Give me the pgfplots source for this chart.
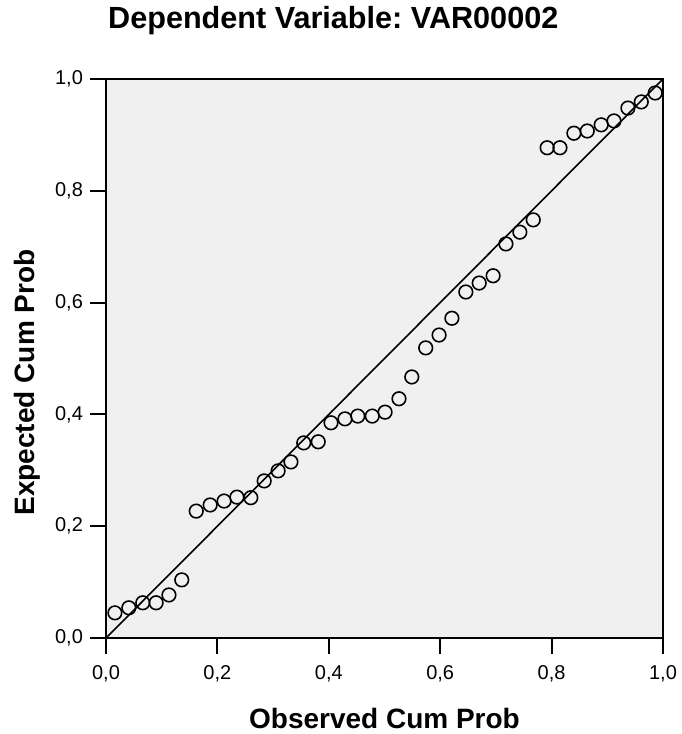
\documentclass[border=0pt]{standalone}
\usepackage{pgfplots}
\pgfplotsset{compat=1.18}
\usepackage{fontspec}
\setmainfont{Liberation Sans}
\frenchspacing
\definecolor{plotbg}{HTML}{F0F0F0}

\begin{document}
\begin{tikzpicture}
\begin{axis}[
  scale only axis,
  width=278.5pt,
  height=279.5pt,
  xmin=0,xmax=1,
  ymin=0,ymax=1,
  axis on top,
  axis background/.style={fill=plotbg},
  axis line style={line width=0.9pt},
  xtick={0,0.2,0.4,0.6,0.8,1},
  ytick={0,0.2,0.4,0.6,0.8,1},
  tick align=outside,
  xtick pos=lower,
  ytick pos=lower,
  major tick length=8pt,
  every tick/.append style={black,line width=1pt},
  xtick style={black,line width=1pt},
  ytick style={black,line width=1pt},
  /pgf/number format/assume math mode=true,
  /pgf/number format/use comma,
  /pgf/number format/fixed,
  /pgf/number format/fixed zerofill,
  /pgf/number format/precision=1,
  tick label style={font=\fontsize{10}{12}\selectfont},
  xticklabel style={yshift=-2pt},
  title={Dependent Variable: VAR00002},
  title style={font=\bfseries\fontsize{15.3}{18}\selectfont,at={(axis description cs:0.408,1)},anchor=base,yshift=19pt},
  xlabel={Observed Cum Prob},
  xlabel style={font=\bfseries\fontsize{14}{17}\selectfont,at={(axis description cs:0.5,0)},anchor=base,yshift=-45pt},
  ylabel={Expected Cum Prob},
  ylabel style={font=\bfseries\fontsize{14}{17}\selectfont,at={(axis description cs:-0.1275,0.457)},anchor=base},
]
\addplot[black,line width=0.8pt] coordinates {(0,0) (1,1)};
\addplot[only marks,mark=o,mark size=3.4pt,mark options={line width=0.8pt,black}] coordinates {
(0.016,0.045) (0.041,0.054) (0.066,0.063) (0.090,0.063) (0.113,0.077)
(0.136,0.104) (0.162,0.227) (0.187,0.238) (0.212,0.245) (0.235,0.252)
(0.260,0.251) (0.284,0.281) (0.309,0.299) (0.332,0.315) (0.355,0.349)
(0.381,0.351) (0.404,0.385) (0.429,0.392) (0.452,0.397) (0.478,0.397)
(0.501,0.404) (0.526,0.428) (0.549,0.467) (0.574,0.519) (0.598,0.542)
(0.621,0.572) (0.646,0.619) (0.670,0.635) (0.695,0.648) (0.718,0.705)
(0.743,0.726) (0.767,0.748) (0.792,0.877) (0.815,0.877) (0.840,0.903)
(0.864,0.907) (0.889,0.918) (0.912,0.925) (0.937,0.948) (0.961,0.959)
(0.986,0.975)
};
\end{axis}
\pgfresetboundingbox
\path[use as bounding box] (-53pt,-48pt) rectangle (287.5pt,319pt);
\end{tikzpicture}
\end{document}
